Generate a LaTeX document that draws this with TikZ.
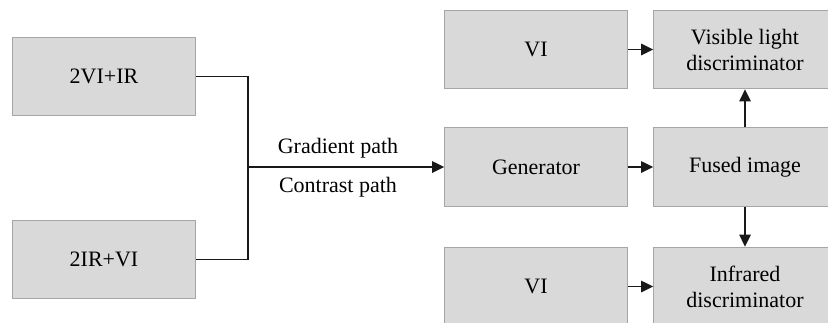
\documentclass[tikz,border=0pt]{standalone}
\usepackage{fontspec}
\newfontfamily\blkfont{Liberation Serif}
\usetikzlibrary{arrows.meta}
\tikzset{
  blk/.style={draw=black!35, fill=black!15, line width=0.8pt, inner sep=0pt,
    minimum width=137pt, minimum height=59pt, align=center,
    font=\blkfont\fontsize{16.5}{19.5}\selectfont},
  lbl/.style={font=\blkfont\fontsize{16.5}{19.5}\selectfont, inner sep=0pt},
  wire/.style={line width=1.4pt, black!90},
  arr/.style={wire, -{Triangle[length=9pt, width=8.5pt]}}
}
\begin{document}
\begin{tikzpicture}[x=0.75pt, y=-0.75pt]
			%%%%% FRAME %%%%%
			\useasboundingbox (0, 0) rectangle (828, 322);
			\clip (0, 0) rectangle (828, 322);
			
			%%%%% INPUTS %%%%%
			\node[blk] (in1) at (104, 76.5) {2VI+IR};
			\node[blk] (in2) at (104, 259.5) {2IR+VI};
			\coordinate (jn) at (248, 167);
			
			\node[lbl] (grad) at (338, 148) {Gradient path};
			\node[lbl] (con) at (338, 187) {Contrast path};
			
			%%%%% MIDDLE COLUMN %%%%%
			\node[blk] (vi1) at (536, 49.5) {VI};
			\node[blk] (gen) at (536, 167) {Generator};
			\node[blk] (vi2) at (536, 286.5) {VI};
			
			%%%%% RIGHT COLUMN %%%%%
			\node[blk] (vis) at (745, 49.5) {Visible light\\discriminator};
			\node[blk] (fus) at (745, 167) {Fused image};
			\node[blk] (ir) at (745, 286.5) {Infrared\\discriminator};
			
			%%%%% CONNECTORS %%%%%
			\draw[wire] (in1.east) -| (jn);
			\draw[wire] (in2.east) -| (jn);
			\draw[arr] (jn) -- (gen.west);
			
			\draw[arr] (vi1) -- (vis);
			\draw[arr] (gen) -- (fus);
			\draw[arr] (vi2) -- (ir);
			\draw[arr] (fus) -- (vis);
			\draw[arr] (fus) -- (ir);
\end{tikzpicture}
\end{document}
